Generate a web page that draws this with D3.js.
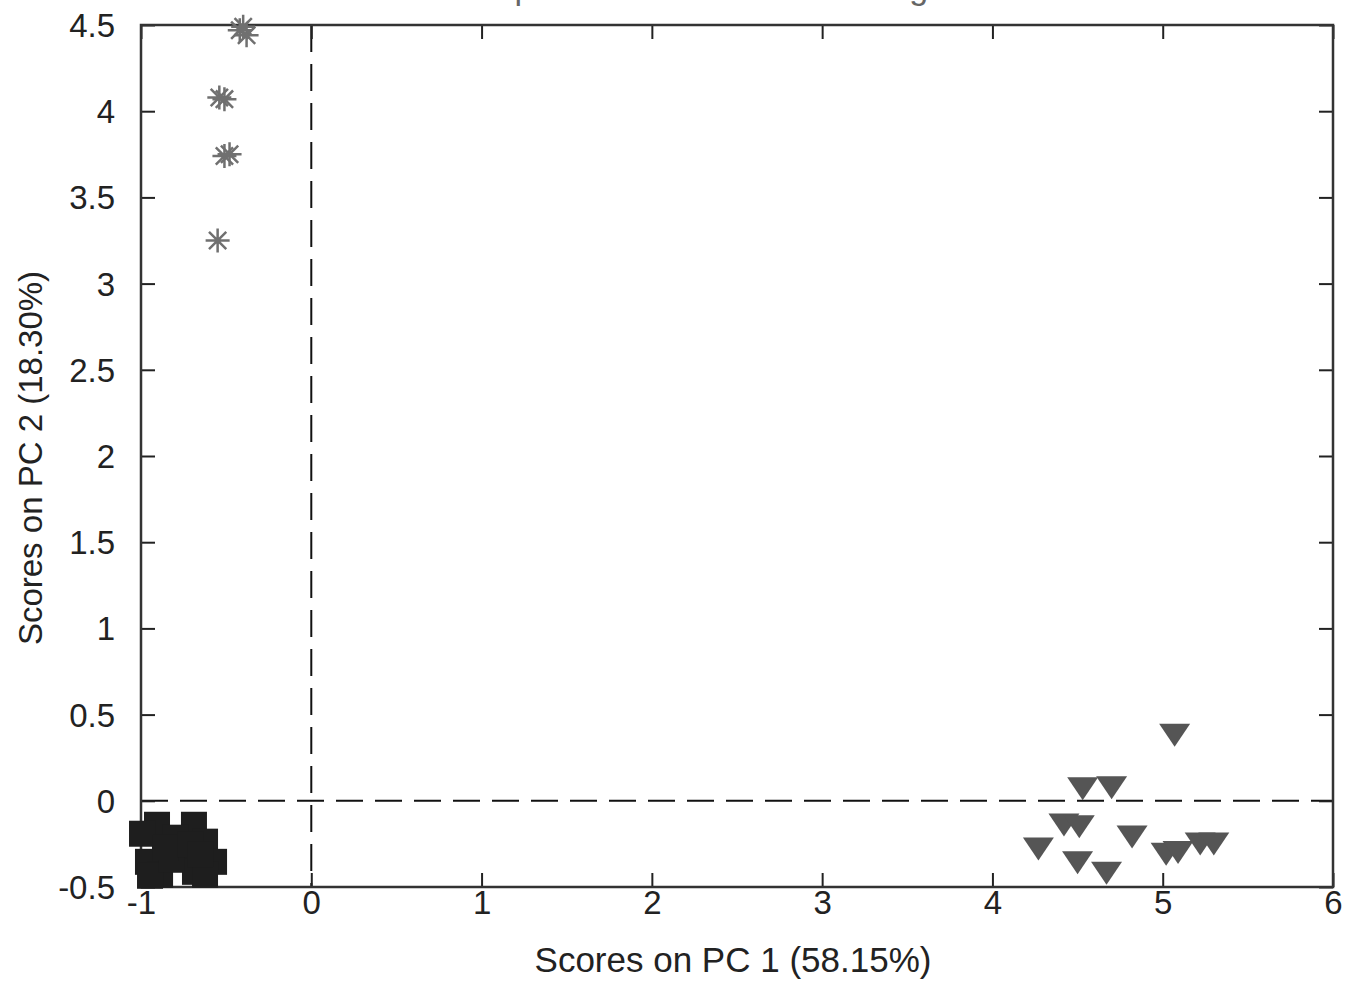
<!DOCTYPE html>
<html>
<head>
<meta charset="utf-8">
<script src="https://cdn.jsdelivr.net/npm/d3@7"></script>
<style>
  body { margin: 0; background: #fff; }
  text { font-family: "Liberation Sans", Arial, sans-serif; fill: #222; }
</style>
</head>
<body>
<div id="container"></div>
<script>
// Tick values on both axes
var xTicks = [-1, 0, 1, 2, 3, 4, 5, 6];
var yTicks = [-0.5, 0, 0.5, 1, 1.5, 2, 2.5, 3, 3.5, 4, 4.5];

// Class 1: asterisks (upper left)
var starX = [-0.42, -0.38, -0.40, -0.54, -0.51, -0.51, -0.48, -0.55];
var starY = [4.47, 4.44, 4.49, 4.08, 4.07, 3.74, 3.75, 3.25];

// Class 2: filled squares (lower left cluster)
var squareX = [-0.906, -0.689, -0.994, -0.800, -0.624, -0.959, -0.742, -0.571, -0.888, -0.683, -0.947, -0.818, -0.624, -0.859, -0.712, -0.653];
var squareY = [-0.139, -0.139, -0.191, -0.214, -0.237, -0.354, -0.331, -0.354, -0.429, -0.412, -0.435, -0.342, -0.429, -0.273, -0.255, -0.313];

// Class 3: downward triangles (lower right)
var triX = [5.07, 4.53, 4.70, 4.42, 4.51, 4.82, 4.27, 4.50, 4.67, 5.02, 5.09, 5.22, 5.30];
var triY = [0.38, 0.07, 0.075, -0.14, -0.15, -0.21, -0.28, -0.36, -0.42, -0.31, -0.30, -0.25, -0.25];

var titleText = "Samples/Scores Plot of Training Data";
var xLabel = "Scores on PC 1 (58.15%)";
var yLabel = "Scores on PC 2 (18.30%)";

var width = 1360;
var height = 986;
var margin = {left: 141, top: 25, right: 27, bottom: 99};

var svg = d3.select("#container")
            .append("svg")
            .attr("width", width)
            .attr("height", height);

var xScale = d3.scaleLinear()
               .domain([-1, 6])
               .range([margin.left, width - margin.right]);

var yScale = d3.scaleLinear()
               .domain([-0.5, 4.5])
               .range([height - margin.bottom, margin.top]);

var plotLeft = xScale.range()[0], plotRight = xScale.range()[1];
var plotTop = yScale.range()[1], plotBottom = yScale.range()[0];
var tickLen = 14;

// Title, cut off at the top edge of the picture (as in the source)
svg.append("text")
   .attr("x", (plotLeft + plotRight) / 2 - 10)
   .attr("y", -1)
   .attr("text-anchor", "middle")
   .style("font-size", "34px")
   .style("fill", "#666")
   .text(titleText);

// Zero lines (dashed)
svg.append("line")
   .attr("x1", plotLeft).attr("x2", plotRight)
   .attr("y1", yScale(0)).attr("y2", yScale(0))
   .attr("stroke", "#111").attr("stroke-width", 2)
   .attr("stroke-dasharray", "27,12");

svg.append("line")
   .attr("x1", xScale(0)).attr("x2", xScale(0))
   .attr("y1", plotTop).attr("y2", plotBottom)
   .attr("stroke", "#111").attr("stroke-width", 2)
   .attr("stroke-dasharray", "27,12");

// Axes drawn as inward ticks on all four sides (box style)
var xAxisBottom = d3.axisBottom(xScale).tickValues(xTicks).tickSizeInner(-tickLen).tickSizeOuter(0).tickPadding(tickLen + 6).tickFormat(function(d) { return String(d); });
var xAxisTop = d3.axisTop(xScale).tickValues(xTicks).tickSizeInner(-tickLen).tickSizeOuter(0).tickFormat("");
var yAxisLeft = d3.axisLeft(yScale).tickValues(yTicks).tickSizeInner(-tickLen).tickSizeOuter(0).tickPadding(tickLen + 12).tickFormat(function(d) { return String(d); });
var yAxisRight = d3.axisRight(yScale).tickValues(yTicks).tickSizeInner(-tickLen).tickSizeOuter(0).tickFormat("");

function styleAxis(g) {
  g.select(".domain").remove();
  g.selectAll(".tick line").attr("stroke", "#222").attr("stroke-width", 2);
  g.selectAll(".tick text").style("font-size", "33px").attr("fill", "#222")
   .style("font-family", "'Liberation Sans', Arial, sans-serif");
}

svg.append("g").attr("id", "x-axis").attr("transform", "translate(0," + plotBottom + ")").call(xAxisBottom).call(styleAxis);
svg.append("g").attr("transform", "translate(0," + plotTop + ")").call(xAxisTop).call(styleAxis);
svg.append("g").attr("id", "y-axis").attr("transform", "translate(" + plotLeft + ",0)").call(yAxisLeft).call(styleAxis);
svg.append("g").attr("transform", "translate(" + plotRight + ",0)").call(yAxisRight).call(styleAxis);

svg.selectAll("#x-axis .tick text").attr("dy", "0.2em");
svg.selectAll("#y-axis .tick text").attr("dy", "0.35em");

// Box
svg.append("rect")
   .attr("x", plotLeft).attr("y", plotTop)
   .attr("width", plotRight - plotLeft).attr("height", plotBottom - plotTop)
   .attr("fill", "none").attr("stroke", "#333").attr("stroke-width", 2.5);

// Squares
var sq = 26;
svg.append("g").selectAll("rect")
   .data(d3.range(squareX.length))
   .enter().append("rect")
   .attr("x", function(i) { return xScale(squareX[i]) - sq / 2; })
   .attr("y", function(i) { return yScale(squareY[i]) - sq / 2; })
   .attr("width", sq).attr("height", sq)
   .attr("fill", "#1e1e1e");

// Downward triangles
var tw = 31, th = 23;
svg.append("g").selectAll("path")
   .data(d3.range(triX.length))
   .enter().append("path")
   .attr("d", function(i) {
     var cx = xScale(triX[i]), cy = yScale(triY[i]);
     return "M" + (cx - tw / 2) + "," + (cy - th / 2) +
            "L" + (cx + tw / 2) + "," + (cy - th / 2) +
            "L" + cx + "," + (cy + th / 2) + "Z";
   })
   .attr("fill", "#555");

// Asterisks
var r = 12;
svg.append("g").selectAll("path")
   .data(d3.range(starX.length))
   .enter().append("path")
   .attr("d", function(i) {
     var cx = xScale(starX[i]), cy = yScale(starY[i]), d = r * 0.72;
     return "M" + (cx - r) + "," + cy + "L" + (cx + r) + "," + cy +
            "M" + cx + "," + (cy - r) + "L" + cx + "," + (cy + r) +
            "M" + (cx - d) + "," + (cy - d) + "L" + (cx + d) + "," + (cy + d) +
            "M" + (cx - d) + "," + (cy + d) + "L" + (cx + d) + "," + (cy - d);
   })
   .attr("stroke", "#707070").attr("stroke-width", 2.5).attr("fill", "none");

// Axis labels
svg.append("text")
   .attr("x", (plotLeft + plotRight) / 2 - 4)
   .attr("y", 972)
   .attr("text-anchor", "middle")
   .style("font-size", "35px")
   .text(xLabel);

svg.append("text")
   .attr("transform", "translate(42," + 458 + ") rotate(-90)")
   .attr("text-anchor", "middle")
   .style("font-size", "33px")
   .text(yLabel);
</script>
</body>
</html>
